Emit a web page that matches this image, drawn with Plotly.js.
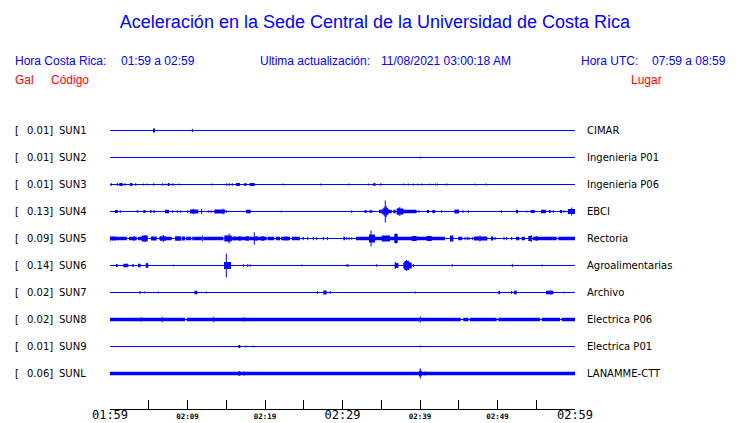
<!DOCTYPE html>
<html>
<head>
<meta charset="utf-8">
<script src="https://cdn.plot.ly/plotly-3.0.1.min.js"></script>
<style>html,body{margin:0;padding:0;background:#fff;}#chart{width:740px;height:423px;}</style>
</head>
<body>
<div id="chart"></div>
<script>
// ---------- data (time in minutes after 01:59, amplitudes relative: 1 = largest peak) ----------
const codes  = ['SUN1','SUN2','SUN3','SUN4','SUN5','SUN6','SUN7','SUN8','SUN9','SUNL'];
const peaks  = ['0.01','0.01','0.01','0.13','0.09','0.14','0.02','0.02','0.01','0.06'];
const places = ['CIMAR','Ingenieria P01','Ingenieria P06','EBCI','Rectoria','Agroalimentarias','Archivo','Electrica P06','Electrica P01','LANAMME-CTT'];

const tickMinutes   = [0,5,10,15,20,25,30,35,40,45,50,55,60];
const bigTickVals   = [0,30,60];
const bigTickText   = ['01:59','02:29','02:59'];
const smallTickVals = [10,20,40,50];
const smallTickText = ['02:09','02:19','02:39','02:49'];

// bursts: [start min, end min, relative half-amplitude]; start==end => single spike
const SUN1 = [[5.55,5.81,0.167],[10.62,10.62,0.14]];
const SUN2 = [[40.04,40.04,0.083]];
const SUN3 = [[0.09,0.22,0.125],[0.94,0.94,0.125],[1.2,1.64,0.125],[1.94,1.94,0.11],[2.58,2.88,0.125],
  [3.32,3.32,0.11],[4.3,4.3,0.083],[4.81,4.81,0.083],[5.64,5.64,0.11],[6.75,6.75,0.11],[7.1,7.1,0.083],
  [7.45,7.7,0.125],[8.09,8.09,0.11],[8.9,8.9,0.083],[13.2,13.2,0.083],[15.06,15.06,0.11],[15.39,15.39,0.11],
  [15.78,15.78,0.11],[16.26,16.77,0.125],[17.33,17.59,0.125],[18.03,18.67,0.125],[22.36,22.36,0.083],
  [27.19,27.19,0.083],[30.84,30.84,0.083],[33.33,33.33,0.083],[33.94,34.28,0.11],[34.93,34.93,0.11],
  [37.85,37.85,0.083],[38.49,38.49,0.083],[39.14,39.14,0.083],[39.7,39.7,0.083],[40.22,40.22,0.083],
  [41.29,41.29,0.083],[42.03,42.03,0.083],[42.28,42.28,0.083],[43.45,43.45,0.083],[47.14,47.14,0.083],
  [48.56,48.56,0.083]];
const SUN4 = [[0.65,0.99,0.125],[1.33,1.33,0.11],[3.45,3.65,0.11],[4.3,4.56,0.125],[5.16,5.38,0.11],
  [5.59,5.81,0.11],[7.1,7.61,0.14],[8.09,8.09,0.11],[8.61,8.74,0.11],[9.12,9.12,0.11],[10.03,10.03,0.11],
  [10.32,11.39,0.167],[10.75,10.75,0.225],[11.83,11.83,0.225],[12.68,12.68,0.11],[13.03,13.03,0.11],
  [13.46,14.84,0.167],[14.58,14.58,0.235],[15.01,15.01,0.11],[17.55,18.16,0.14],[22.1,22.1,0.083],
  [31.19,31.19,0.11],[32.81,33.16,0.11],[33.46,33.85,0.11],[34.71,35.39,0.14],[35.13,35.91,0.25],
  [35.39,35.39,0.4],[35.52,35.52,0.917],[35.65,35.65,0.45],[35.78,35.78,0.3],[35.87,36.35,0.14],
  [36.56,36.86,0.14],[36.99,37.85,0.25],[37.2,37.2,0.3],[37.4,37.4,0.375],[37.81,39.57,0.14],
  [39.87,39.87,0.11],[40.87,41.16,0.125],[41.59,41.94,0.125],[42.8,42.8,0.11],[44.43,45.03,0.167],
  [45.55,45.55,0.11],[46.23,46.23,0.11],[50.49,50.49,0.11],[52.39,52.65,0.14],[53.77,53.77,0.083],
  [54.28,54.8,0.125],[55.61,56.26,0.14],[56.61,56.87,0.125],[57.2,57.2,0.11],[58.07,58.32,0.125],
  [58.58,58.58,0.11],[59.1,60,0.21],[59.57,59.57,0.333]];
const SUN5 = [[0,2.16,0.14],[0.09,0.09,0.19],[0.35,0.35,0.19],[0.65,0.65,0.19],[2.45,3.45,0.14],[3.0,3.23,0.19],
  [3.61,4.87,0.14],[4.09,4.87,0.25],[4.52,4.52,0.275],[5.29,6.03,0.167],[6.36,7.96,0.14],[6.45,7.23,0.19],
  [6.88,6.88,0.29],[8.39,9.16,0.19],[9.25,9.68,0.167],[9.81,10.45,0.14],[10.62,10.62,0.167],[10.75,11.83,0.14],
  [11.91,11.91,0.25],[12.04,14.62,0.14],[14.75,15.7,0.25],[15.36,15.36,0.42],[15.7,16.56,0.14],[16.13,16.13,0.19],
  [16.56,16.9,0.19],[16.9,17.51,0.14],[17.51,17.94,0.19],[17.94,20.22,0.14],[18.62,18.62,0.525],
  [18.75,19.0,0.19],[19.5,19.9,0.19],[20.35,21.2,0.14],[21.42,21.94,0.14],[22.07,23.23,0.14],[22.4,23.0,0.167],
  [23.45,24.52,0.14],[24.94,24.94,0.14],[25.51,25.51,0.14],[26.23,26.23,0.14],[26.67,26.67,0.14],
  [27.52,27.52,0.14],[28.04,28.04,0.14],[30.1,30.32,0.14],[30.54,30.54,0.11],[30.84,30.84,0.14],
  [31.19,31.19,0.11],[31.74,33.55,0.14],[33.42,34.19,0.333],[33.68,33.68,0.667],[34.19,35.06,0.14],
  [35.06,36.13,0.25],[36.13,36.68,0.14],[36.68,37.12,0.375],[36.86,36.86,0.42],[37.12,38.93,0.14],
  [38.93,39.57,0.21],[39.57,40.87,0.14],[40.87,41.51,0.21],[41.51,43.23,0.14],[43.87,44.3,0.25],
  [44.94,45.46,0.14],[45.81,45.81,0.14],[46.1,46.1,0.14],[46.32,46.32,0.14],[46.8,46.8,0.14],
  [46.97,48.68,0.167],[47.74,47.74,0.25],[49.16,49.46,0.167],[49.68,49.68,0.14],[50.84,50.84,0.14],
  [51.19,51.19,0.14],[51.83,51.83,0.14],[52.39,52.81,0.14],[53.12,53.55,0.14],[53.97,54.41,0.21],
  [54.35,54.35,0.29],[54.54,57.64,0.14],[54.9,55.2,0.19],[57.85,60,0.14]];
const SUN6 = [[0.77,0.99,0.125],[1.72,2.36,0.14],[2.88,3.06,0.125],[3.61,3.96,0.14],[4.61,4.94,0.19],
  [4.77,4.77,0.225],[8.22,8.22,0.083],[14.71,15.61,0.29],[15.01,15.01,1.0],[17.2,17.2,0.11],[17.77,17.77,0.11],
  [18.1,18.1,0.11],[24.74,24.74,0.083],[30.45,30.84,0.083],[34.41,34.41,0.11],[36.77,37.2,0.2],
  [36.8,36.8,0.29],[37.85,38.93,0.25],[38.0,38.6,0.375],[38.28,38.28,0.46],[39.14,39.14,0.125],
  [44.17,44.17,0.11],[51.91,51.91,0.14],[55.78,55.78,0.083]];
const SUN7 = [[3.87,3.87,0.14],[4.43,4.43,0.083],[6.23,6.23,0.083],[10.88,11.27,0.14],[12.43,12.43,0.083],
  [26.75,26.75,0.125],[27.52,27.96,0.167],[28.43,28.43,0.11],[39.39,39.39,0.083],[50.1,50.32,0.14],
  [51.83,51.83,0.125],[52.13,52.48,0.14],[56.26,57.2,0.14],[56.87,56.87,0.19],[58.62,58.62,0.083]];
const SUN8 = [[0,9.68,0.15],[9.9,45.25,0.15],[45.59,46.26,0.15],[46.45,49.9,0.15],[50.1,55.48,0.15],
  [55.7,58.07,0.15],[58.28,60,0.15],[4.0,4.0,0.19],[6.75,6.75,0.225],[13.38,13.38,0.225],[17.33,17.33,0.19],
  [40.04,40.04,0.25]];
const SUN9 = [[16.56,16.81,0.125],[17.55,17.55,0.083],[18.49,18.49,0.083],[40.04,40.04,0.083]];
const SUNL = [[0,60,0.15],[16.56,16.81,0.19],[17.33,17.33,0.167],[38.93,38.93,0.11],[39.87,40.22,0.225],
  [40.04,40.04,0.42],[40.65,40.65,0.167],[56.26,56.26,0.083]];
const bursts = [SUN1,SUN2,SUN3,SUN4,SUN5,SUN6,SUN7,SUN8,SUN9,SUNL];

// ---------- drawing ----------
const BLUE = '#0000ff';
const GAIN = 12/27;           // relative amplitude -> row units
const traces = [];
codes.forEach((c, i) => {
  const b = -i;
  traces.push({x:[0,60], y:[b,b], mode:'lines', line:{color:BLUE, width:1}, hoverinfo:'skip'});
  const px = [], py = [], sx = [], sy = [];
  bursts[i].forEach(([t0,t1,a]) => {
    const h = a*GAIN;
    if (t1 > t0) { px.push(t0,t1,t1,t0,t0,null); py.push(b-h,b-h,b+h,b+h,b-h,null); }
    else { sx.push(t0,t0,null); sy.push(b-h,b+h,null); }
  });
  if (px.length) traces.push({x:px, y:py, mode:'lines', fill:'toself', fillcolor:BLUE, line:{width:0, color:BLUE}, hoverinfo:'skip'});
  if (sx.length) traces.push({x:sx, y:sy, mode:'lines', line:{color:BLUE, width:1}, hoverinfo:'skip'});
});
traces.push({x:[0], y:[0], xaxis:'x2', mode:'markers', marker:{opacity:0}, hoverinfo:'skip'});
traces.push({x:[0], y:[0], xaxis:'x3', mode:'markers', marker:{opacity:0}, hoverinfo:'skip'});

// page-pixel helpers for text placement
const L = 110, R = 575, T = 115, B = 409;
const PX = p => (p - L) / (R - L);
const PY = p => (B - p) / (B - T);

const ann = [];
const hdr = (text, x, y, color) => ann.push({text, xref:'paper', yref:'paper', x:PX(x), y:PY(y),
  xanchor:'left', yanchor:'middle', showarrow:false, font:{family:'Liberation Sans, Arial', size:12, color}});
hdr('Hora Costa Rica:', 13, 61, BLUE);
hdr('01:59 a 02:59', 119, 61, BLUE);
hdr('Ultima actualización:', 258, 61, BLUE);
hdr('11/08/2021 03:00:18 AM', 379, 61, BLUE);
hdr('Hora UTC:', 579, 61, BLUE);
hdr('07:59 a 08:59', 650, 61, BLUE);
hdr('Gal', 13, 80, '#ff0000');
hdr('Código', 49, 80, '#ff0000');
hdr('Lugar', 629, 80, '#ff0000');

const lbl = (text, x, i) => ann.push({text, xref:'paper', yref:'y', x:PX(x), y:-i,
  xanchor:'left', yanchor:'middle', showarrow:false, font:{family:'DejaVu Sans', size:10, color:'#000'}});
codes.forEach((c, i) => {
  lbl('[', 13, i);
  lbl(peaks[i] + ']', 25, i);
  lbl(c, 57, i);
  lbl(places[i], 585, i);
});

const layout = {
  width:740, height:423,
  margin:{l:L, r:740-R, t:T, b:423-B, pad:0},
  paper_bgcolor:'#fff', plot_bgcolor:'#fff', showlegend:false,
  title:{text:'Aceleración en la Sede Central de la Universidad de Costa Rica',
    xref:'container', yref:'container', x:375/740, y:1-22/423, xanchor:'center', yanchor:'middle',
    font:{family:'Liberation Sans, Arial', size:18, color:BLUE}},
  xaxis:{range:[0,60], tickmode:'array', tickvals:tickMinutes, showticklabels:false, ticks:'inside',
    ticklen:9, tickwidth:1, tickcolor:'#000', showline:true, linecolor:'#000', linewidth:1,
    showgrid:false, zeroline:false, fixedrange:true},
  xaxis2:{overlaying:'x', anchor:'y', side:'bottom', range:[0,60], tickmode:'array', tickvals:bigTickVals,
    ticktext:bigTickText, ticks:'', showline:false, showgrid:false, zeroline:false, ticklabelstandoff:-3,
    tickfont:{family:'DejaVu Sans Mono', size:12, color:'#000'}},
  xaxis3:{overlaying:'x', anchor:'y', side:'bottom', range:[0,60], tickmode:'array', tickvals:smallTickVals,
    ticktext:smallTickText, ticks:'', showline:false, showgrid:false, zeroline:false, ticklabelstandoff:1,
    tickfont:{family:'DejaVu Sans Mono', size:7.5, color:'#000', weight:'bold'}},
  yaxis:{range:[-9-(B-373.5)/27, (130.5-T)/27], showticklabels:false, showgrid:false, zeroline:false,
    showline:false, ticks:'', fixedrange:true},
  annotations:ann
};
Plotly.newPlot('chart', traces, layout, {staticPlot:true, displayModeBar:false});
</script>
</body>
</html>
